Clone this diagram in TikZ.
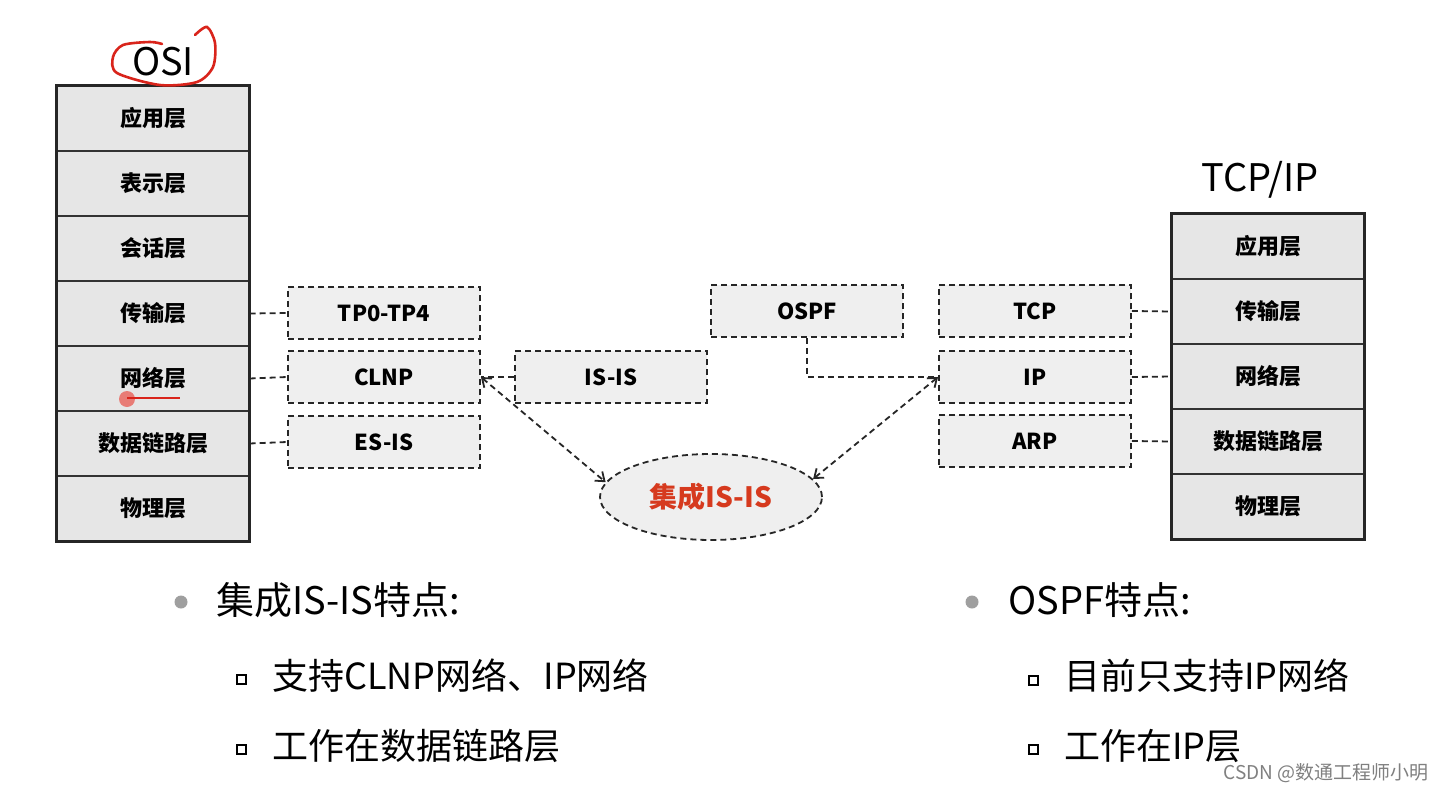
\documentclass[tikz,border=0pt]{standalone}
\usepackage{fontspec}
\setmainfont{Noto Sans CJK SC}
\usetikzlibrary{shapes.geometric,positioning,fit,arrows.meta}
\definecolor{layergray}{HTML}{E6E6E6}
\definecolor{boxgray}{HTML}{EFEFEF}
\definecolor{penred}{HTML}{D9241B}
\definecolor{isisred}{HTML}{D63A1E}

\begin{document}
\begin{tikzpicture}[x=1pt,y=-1pt,
  layer/.style={draw=black!80,line width=1.2pt,fill=layergray,minimum width=192pt,
    minimum height=65pt,inner sep=0pt,font=\bfseries\fontsize{22}{24}\selectfont},
  stackframe/.style={draw=black!85,line width=2.4pt,inner sep=0pt},
  protobox/.style={draw=black!85,dash pattern=on 6pt off 4pt,line width=1.8pt,fill=boxgray,
    minimum width=192pt,minimum height=52pt,inner sep=0pt,font=\bfseries\fontsize{22}{24}\selectfont},
  link/.style={draw=black!85,dash pattern=on 6pt off 4pt,line width=1.8pt},
  duallink/.style={link,{Straight Barb[length=8pt,width=12pt]}-{Straight Barb[length=8pt,width=12pt]}},
  stacklabel/.style={font=\fontsize{38}{40}\selectfont},
  headline/.style={anchor=west,inner sep=0pt,font=\fontsize{38}{40}\selectfont},
  subline/.style={anchor=west,inner sep=0pt,font=\fontsize{36}{38}\selectfont},
  bigdot/.style={circle,fill=gray!75,inner sep=0pt,minimum size=13pt},
  smallsq/.style={draw=black,line width=2pt,inner sep=0pt,minimum size=9pt},
]
\useasboundingbox[fill=white] (0,0) rectangle (1446,792);

% OSI stack
\node[stacklabel] (osilabel) at (163,62) {OSI};
\node[layer] (osi1) at (153,118.5) {应用层};
\node[layer] (osi2) at (153,183.5) {表示层};
\node[layer] (osi3) at (153,248.5) {会话层};
\node[layer] (osi4) at (153,313.5) {传输层};
\node[layer] (osi5) at (153,378.5) {网络层};
\node[layer] (osi6) at (153,443.5) {数据链路层};
\node[layer] (osi7) at (153,508.5) {物理层};
\node[stackframe,fit=(osi1)(osi7)] (osistack) {};

% TCP/IP stack
\node[stacklabel] (tcpiplabel) at (1260,180) {TCP/IP};
\node[layer] (tip1) at (1268,246.5) {应用层};
\node[layer] (tip2) at (1268,311.5) {传输层};
\node[layer] (tip3) at (1268,376.5) {网络层};
\node[layer] (tip4) at (1268,441.5) {数据链路层};
\node[layer] (tip5) at (1268,506.5) {物理层};
\node[stackframe,fit=(tip1)(tip5)] (tipstack) {};

% protocols
\node[protobox] (tp) at (384,313) {TP0-TP4};
\node[protobox] (clnp) at (384,377) {CLNP};
\node[protobox] (esis) at (384,442) {ES-IS};
\node[protobox] (isis) at (611,377) {IS-IS};
\node[protobox] (ospf) at (807,311) {OSPF};
\node[protobox] (tcp) at (1035,311) {TCP};
\node[protobox] (ip) at (1035,377) {IP};
\node[protobox] (arp) at (1035,441) {ARP};
\node[ellipse,draw=black!85,dash pattern=on 6pt off 4pt,line width=1.8pt,fill=boxgray,
  minimum width=222pt,minimum height=86pt,inner sep=0pt,text=isisred,
  font=\bfseries\fontsize{28}{30}\selectfont] (integ) at (711,497) {集成IS-IS};

% links
\draw[link] (osi4.east) -- (tp.west);
\draw[link] (osi5.east) -- (clnp.west);
\draw[link] (osi6.east) -- (esis.west);
\draw[link] (isis.west) -- (clnp.east);
\draw[link] (ospf.south) |- (ip.west);
\draw[link] (tcp.east) -- (tip2.west);
\draw[link] (ip.east) -- (tip3.west);
\draw[link] (arp.east) -- (tip4.west);
\draw[duallink] (clnp.east) -- (integ.172);
\draw[duallink] (ip.west) -- (integ.10);

% pen marks
\draw[penred,line width=2.6pt,line cap=round] plot[smooth] coordinates {(195,35) (207,27) (215,43)
  (213,67) (197,82) (160,85) (117,73) (113,57) (123,45) (150,42) (162,44)};
\fill[penred!60!white] (127,399) circle (8);
\draw[penred,line width=2pt] (127,398) -- (180,398);

% notes
\node[bigdot] (dot1) at (181,602) {};
\node[headline] (isisnote) at (216,600) {集成IS-IS特点:};
\node[smallsq] (sq1) at (241,679) {};
\node[subline] (isisnote1) at (272,676) {支持CLNP网络、IP网络};
\node[smallsq] (sq2) at (241,749) {};
\node[subline] (isisnote2) at (272,746) {工作在数据链路层};
\node[bigdot] (dot2) at (972,602) {};
\node[headline] (ospfnote) at (1008,600) {OSPF特点:};
\node[smallsq] (sq3) at (1033,680) {};
\node[subline] (ospfnote1) at (1064,676) {目前只支持IP网络};
\node[smallsq] (sq4) at (1033,749) {};
\node[subline] (ospfnote2) at (1064,746) {工作在IP层};

\node[anchor=east,text=gray,font=\fontsize{19}{21}\selectfont] (mark) at (1432,773) {CSDN @数通工程师小明};
\end{tikzpicture}
\end{document}
